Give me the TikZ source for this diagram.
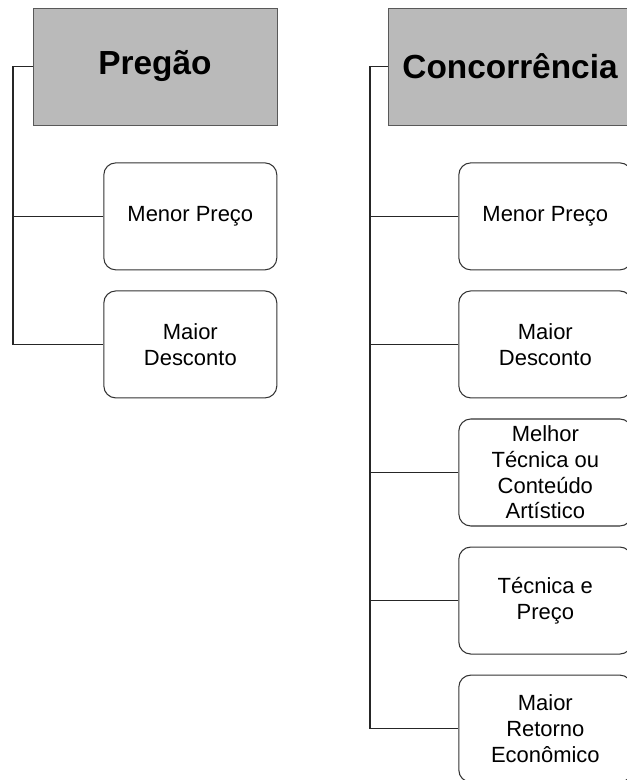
\documentclass[tikz,border=0pt]{standalone}
\usepackage{fontspec}
\setmainfont{Liberation Sans}
\usepackage{tikz}
\usetikzlibrary{positioning}
\usepackage{xcolor}

\begin{document}
\begin{tikzpicture}[node distance=0.4cm,
  modbox/.style={draw=black!65,fill=black!27,minimum width=4.88cm,minimum height=2.34cm,inner sep=0pt,font=\fontsize{19}{22}\selectfont\bfseries},
  critbox/.style={draw=black!80,line width=0.6pt,rounded corners=0.24cm,minimum width=3.46cm,minimum height=2.14cm,inner sep=0pt,align=center,font=\fontsize{12.5}{14.6}\selectfont},
  link/.style={line width=0.6pt,black!85}]
\clip (0,0) rectangle (12.54,-15.6);
% modalidades
\node[modbox] (pregao) at (3.10,-1.33) {Pregão};
\node[modbox] (concor) at (10.20,-1.33) {Concorrência};
% criterios do pregao
\node[critbox] (pMenor) [below=0.74cm of pregao.south east,anchor=north east] {Menor Preço};
\node[critbox] (pDesc) [below=of pMenor] {Maior\\Desconto};
% criterios da concorrencia
\node[critbox] (cMenor) [below=0.74cm of concor.south east,anchor=north east] {Menor Preço};
\node[critbox] (cDesc) [below=of cMenor] {Maior\\Desconto};
\node[critbox] (cTecnica) [below=of cDesc] {Melhor\\Técnica ou\\Conteúdo\\Artístico};
\node[critbox] (cTecPreco) [below=of cTecnica] {Técnica e\\Preço};
\node[critbox] (cRetorno) [below=of cTecPreco] {Maior\\Retorno\\Econômico};
% troncos
\coordinate (tP) at (0.26,0);
\coordinate (tC) at (7.40,0);
\draw[link] (pregao.west) -- (pregao.west -| tP) |- (pDesc.west);
\draw[link] (pMenor.west) -- (pMenor.west -| tP);
\draw[link] (concor.west) -- (concor.west -| tC) |- (cRetorno.west);
\foreach \n in {cMenor,cDesc,cTecnica,cTecPreco}
  \draw[link] (\n.west) -- (\n.west -| tC);
\end{tikzpicture}
\end{document}
